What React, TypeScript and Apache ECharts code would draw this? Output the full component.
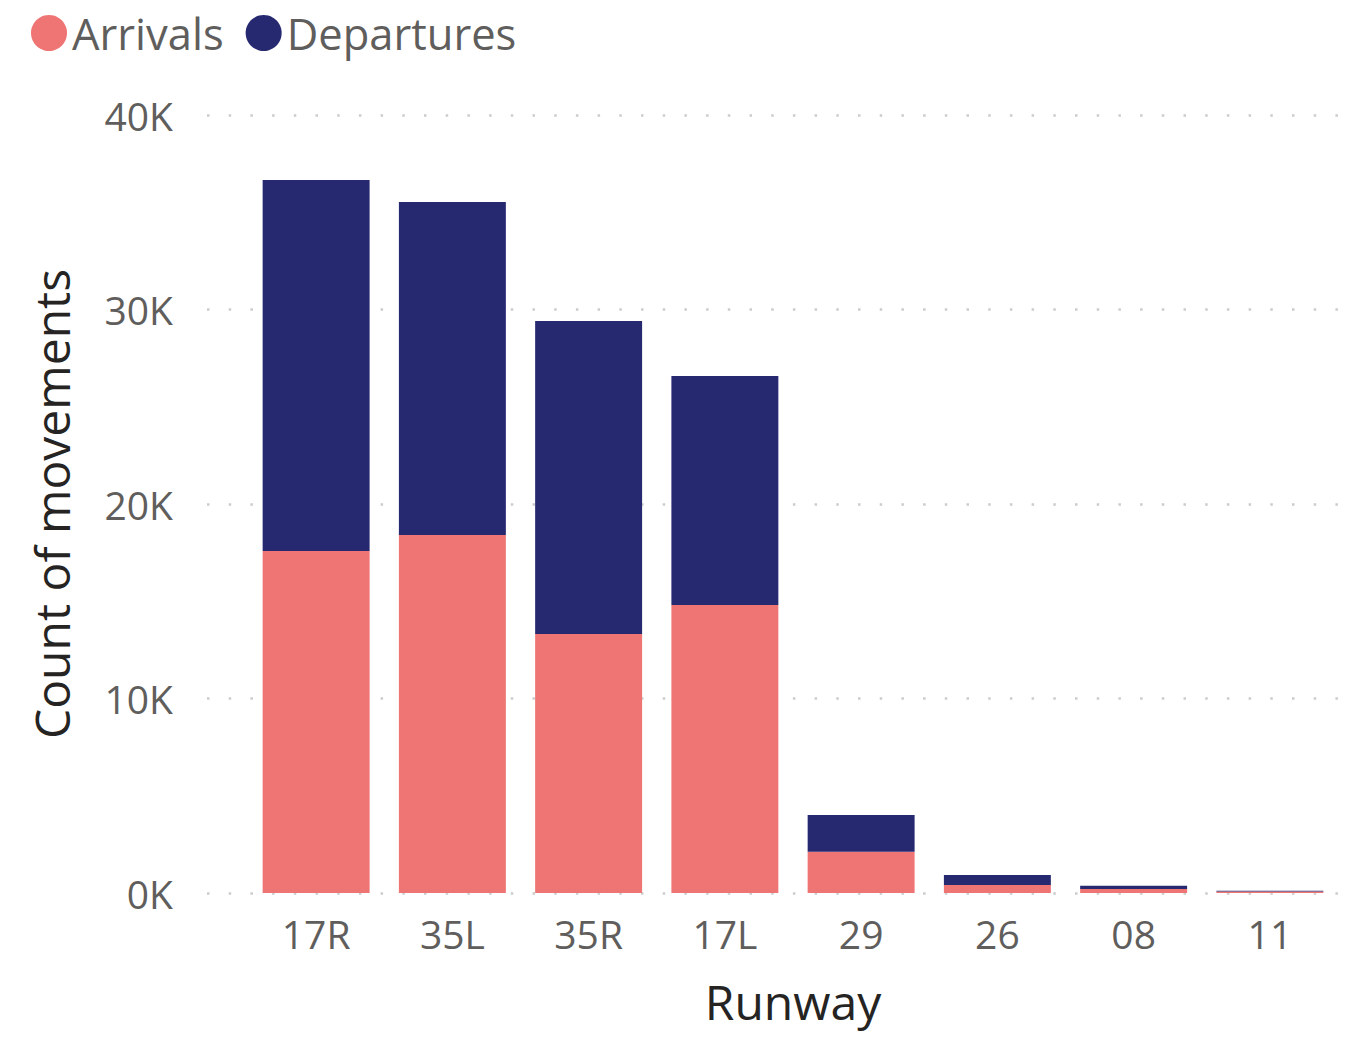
import React, { useEffect, useRef } from "react";
import * as echarts from "echarts";

const runways = ["17R", "35L", "35R", "17L", "29", "26", "08", "11"];
const arrivals = [17580, 18410, 13320, 14810, 2120, 410, 200, 80];
const departures = [19080, 17120, 16090, 11770, 1890, 520, 170, 40];
const yTicks = [0, 10000, 20000, 30000, 40000];

const FONT = "'Open Sans', 'Noto Sans', sans-serif";

export default function App() {
  const ref = useRef<HTMLDivElement>(null);
  useEffect(() => {
    document.body.style.margin = "0";
    const chart = echarts.init(ref.current!, null, { renderer: "svg" });
    const yMax = yTicks[yTicks.length - 1];
    chart.setOption({
      animation: false,
      textStyle: { fontFamily: FONT },
      legend: {
        left: 26,
        top: 6,
        icon: "circle",
        itemWidth: 36,
        itemHeight: 36,
        itemGap: 22,
        textStyle: { fontSize: 43.5, color: "#605E5C", fontFamily: FONT },
        data: ["Arrivals", "Departures"],
      },
      grid: [
        { left: 207, right: 8, top: 115, bottom: 148 },
        { left: 248, right: 15, top: 115, bottom: 148 },
      ],
      xAxis: [
        { type: "value", gridIndex: 0, show: false, min: 0, max: 1 },
        {
          type: "category",
          gridIndex: 1,
          data: runways,
          axisLine: { show: false },
          axisTick: { show: false },
          axisLabel: { fontSize: 39, color: "#605E5C", margin: 21, fontFamily: FONT },
          name: "Runway",
          nameLocation: "middle",
          nameGap: 84,
          nameTextStyle: { fontSize: 48, color: "#252423", fontFamily: FONT },
        },
      ],
      yAxis: [
        {
          type: "value",
          gridIndex: 0,
          min: 0,
          max: yMax,
          interval: 10000,
          axisLine: { show: false },
          axisTick: { show: false },
          axisLabel: {
            fontSize: 39,
            color: "#605E5C",
            margin: 34,
            fontFamily: FONT,
            formatter: (v: number) => `${v / 1000}K`,
          },
          splitLine: {
            lineStyle: { color: "#CCCCCC", width: 2.5, type: [2.5, 19.2] },
          },
          name: "Count of movements",
          nameLocation: "middle",
          nameRotate: 90,
          nameGap: 132,
          nameTextStyle: { fontSize: 48, color: "#252423", fontFamily: FONT },
        },
        {
          type: "value",
          gridIndex: 1,
          min: 0,
          max: yMax,
          interval: 10000,
          show: false,
          splitLine: { show: false },
        },
      ],
      series: [
        {
          name: "Arrivals",
          type: "bar",
          stack: "total",
          xAxisIndex: 1,
          yAxisIndex: 1,
          data: arrivals,
          barCategoryGap: "21.5%",
          itemStyle: { color: "#EF7474" },
        },
        {
          name: "Departures",
          type: "bar",
          stack: "total",
          xAxisIndex: 1,
          yAxisIndex: 1,
          data: departures,
          barCategoryGap: "21.5%",
          itemStyle: { color: "#262870" },
        },
      ],
    });
    return () => chart.dispose();
  }, []);
  return <div ref={ref} style={{ width: 1353, height: 1041 }} />;
}
